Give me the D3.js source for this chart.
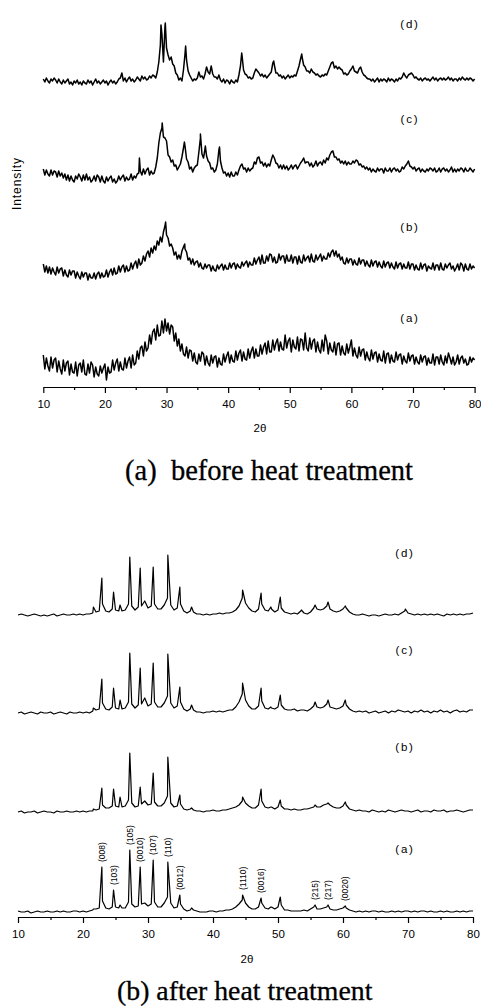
<!DOCTYPE html>
<html>
<head>
<meta charset="utf-8">
<script src="https://cdn.jsdelivr.net/npm/d3@7"></script>
<style>
  body { margin: 0; background: #fff; }
  svg { display: block; }
</style>
</head>
<body>
<script>
// ---------------- data (arbitrary intensity units) ----------------
const sampleNames = ["(a)", "(b)", "(c)", "(d)"];
const xTicks = [10, 20, 30, 40, 50, 60, 70, 80];
const xMinorTicks = [15, 25, 35, 45, 55, 65, 75];

// before heat treatment, sampled every 0.25 deg from 10 to 80
const thetaBefore = d3.range(281).map(i => 10 + i * 0.25);

const beforeA = [
  30,16,27,19, 14,28,17,25, 27,13,24,16, 11,25,14,22, 24,10,21,13,
  12,23,9,20, 22,13,25,11, 10,21,12,23, 20,8,18,11, 9,19,12,17,
  21,5,18,12, 13,25,15,22, 26,14,23,16, 15,27,17,24, 28,17,30,20,
  22,34,26,37, 39,29,43,34, 37,50,41,53, 56,45,60,49, 50,64,52,66,
  54,62,51,60, 58,44,52,39, 46,34,41,31, 29,38,27,35, 34,24,32,23,
  21,31,24,33, 31,20,29,22, 19,30,22,28, 29,18,27,21, 20,31,23,29,
  33,22,30,24, 23,34,25,32, 35,24,33,26, 25,36,27,34, 38,27,36,29,
  29,40,31,38, 42,31,44,33, 33,45,35,42, 46,34,43,36, 35,50,37,44,
  47,33,45,38, 36,48,34,46, 45,35,52,37, 34,47,36,44, 46,33,43,35,
  32,45,34,50, 44,31,42,35, 33,43,30,41, 42,30,39,32, 30,41,32,38,
  45,29,37,30, 27,38,29,35, 36,25,33,27, 24,35,26,32, 33,23,31,25,
  24,34,22,31, 32,22,30,24, 23,33,25,30, 31,21,29,24, 22,32,24,29,
  30,21,28,23, 21,30,23,28, 29,20,27,22, 22,31,20,28, 28,21,30,23,
  20,29,22,32, 27,21,28,20, 23,30,21,27, 29,22,26,20, 21,28,23,27,
  25];
const beforeB = [
  26,18,24,17, 23,16,22,18, 15,23,17,21, 22,14,20,15, 13,20,15,19,
  19,12,18,14, 11,18,13,17, 17,10,16,12, 12,17,11,16, 18,12,17,13,
  14,20,13,18, 21,15,22,16, 17,24,18,23, 25,18,24,19, 20,27,21,26,
  29,22,31,25, 27,34,29,36, 39,33,42,37, 44,40,49,45, 53,48,58,64,
  55,52,44,46, 42,35,38,31, 35,31,39,43, 41,38,30,32, 26,31,25,28,
  29,23,27,22, 21,26,22,25, 25,19,24,20, 19,25,21,24, 26,20,25,21,
  21,27,22,26, 27,21,26,23, 22,28,24,27, 29,23,28,25, 25,32,26,30,
  33,26,35,27, 27,34,29,36, 35,28,33,27, 28,36,30,34, 34,27,35,29,
  29,35,27,33, 33,26,34,28, 27,35,29,32, 34,28,36,29, 28,35,30,33,
  36,29,34,31, 31,37,33,38, 40,34,39,33, 36,30,33,27, 26,32,27,31,
  31,25,30,26, 25,32,26,30, 30,24,29,25, 23,30,24,28, 29,23,28,24,
  22,29,23,27, 28,22,27,23, 21,28,22,26, 27,21,26,22, 22,28,21,26,
  26,20,25,21, 20,27,21,25, 26,19,24,22, 21,27,20,25, 25,20,27,21,
  20,26,22,25, 27,21,24,19, 22,26,20,27, 25,19,26,21, 20,26,21,24,
  22];
const beforeC = [
  26,20,25,21, 19,25,20,24, 23,18,24,19, 22,17,21,15, 20,14,19,15,
  13,19,16,21, 18,14,20,15, 21,15,18,13, 15,19,14,20, 18,13,19,14,
  12,18,14,17, 19,13,16,12, 14,19,15,18, 20,14,18,15, 16,21,15,19,
  17,21,22,24, 20,26,21,25, 27,20,24,21, 22,28,37,52, 62,67,58,57,
  54,40,38,33, 35,29,30,25, 28,31,38,47, 49,36,33,26, 28,23,27,29,
  30,43,57,41, 37,46,39,34, 32,26,27,23, 25,31,45,34, 27,22,23,19,
  22,18,23,19, 19,23,20,25, 29,31,26,27, 23,27,24,26, 27,33,31,37,
  38,32,33,29, 32,28,31,29, 35,40,37,32, 31,27,30,26, 30,26,29,25,
  27,30,26,29, 30,26,29,32, 34,37,32,33, 33,29,32,28, 30,34,29,32,
  33,30,35,32, 37,35,40,43, 44,38,38,35, 36,32,34,31, 34,30,33,31,
  31,34,32,35, 34,30,31,28, 29,26,28,25, 27,23,26,24, 23,27,24,26,
  26,22,27,24, 24,27,23,26, 27,24,26,23, 24,28,26,29, 31,34,29,28,
  26,28,24,26, 27,23,26,24, 23,26,24,27, 26,24,27,23, 24,27,23,26,
  27,24,26,23, 25,28,23,26, 23,26,24,27, 26,23,27,24, 24,27,25,23,
  26];
const beforeD = [
  21,18,22,19, 17,21,19,22, 20,17,21,18, 16,20,17,19, 21,16,18,15,
  19,17,20,16, 18,15,19,17, 16,20,17,19, 15,18,21,17, 19,16,18,20,
  17,19,15,18, 20,17,19,16, 18,21,22,27, 19,22,18,21, 23,19,21,18,
  20,23,21,19, 24,21,23,20, 21,24,22,25, 24,22,28,38, 55,66,38,74,
  52,45,40,43, 36,34,27,25, 20,22,19,30, 46,40,29,25, 22,19,21,20,
  22,28,23,24, 21,26,33,28, 26,34,26,23, 23,21,25,20, 18,21,17,20,
  19,16,20,18, 17,20,18,25, 34,45,30,26, 25,22,23,21, 22,27,31,29,
  27,24,26,23, 25,22,24,26, 28,37,35,27, 27,24,25,22, 24,21,23,25,
  22,24,23,25, 24,29,34,41, 43,35,33,29, 29,27,31,28, 27,25,26,24,
  23,25,24,26, 25,29,33,37, 38,32,34,31, 33,31,30,26, 27,25,26,29,
  31,34,29,28, 27,31,33,28, 25,24,22,21, 21,19,21,18, 20,22,18,21,
  19,21,20,18, 22,19,21,20, 18,21,19,22, 21,23,27,24, 22,25,26,27,
  25,22,23,21, 20,22,19,21, 22,20,21,19, 21,23,20,22, 19,21,22,20,
  22,20,21,23, 20,22,19,21, 21,19,22,20, 23,21,20,22, 20,22,21,19,
  21];
// sharp reflections that fall between samples: [2theta, intensity]
const beforePeaksA = [];
const beforePeaksB = [[29.85, 68], [32.95, 46]];
const beforePeaksC = [[25.6, 37], [29.3, 72], [32.9, 53], [35.5, 61], [36.3, 49], [38.6, 48]];
const beforePeaksD = [[29.1, 75], [29.8, 77], [33.1, 54], [42.2, 47], [47.4, 39], [51.95, 46]];

// after heat treatment, background sampled every 0.5 deg from 10 to 80
const thetaAfter = d3.range(141).map(i => 10 + i * 0.5);

const afterA = [
  4,3,3,4,2,3,4,3,3,4,
  3,3,4,3,4,3,3,4,4,3,
  4,3,4,5,6,7,14,7,6,8,
  8,7,7,7,13,11,8,9,11,12,
  9,11,13,8,8,12,18,12,7,8,
  11,6,4,5,5,4,3,3,3,4,
  4,3,4,4,5,5,6,8,11,15,
  12,8,6,6,8,12,7,6,8,6,
  8,10,5,5,4,4,4,4,5,4,
  6,8,6,6,7,8,6,5,5,6,
  7,7,5,4,3,4,3,4,3,4,
  4,3,4,3,3,4,3,4,3,4,
  4,3,4,3,4,4,3,4,3,3,
  4,3,4,3,3,4,3,4,3,4,
  4];
const afterB = [
  3,4,2,3,3,4,2,3,4,3,
  3,2,4,3,3,4,3,3,4,3,
  4,3,4,4,5,6,10,7,7,9,
  9,8,8,9,15,12,8,9,11,14,
  10,11,13,9,9,12,19,12,8,9,
  11,6,5,6,5,4,4,3,4,4,
  5,4,4,5,5,6,7,8,10,14,
  12,9,7,7,10,14,8,7,8,6,
  8,9,6,6,5,6,5,5,6,6,
  7,8,8,8,10,11,10,8,7,7,
  9,10,6,5,4,5,4,4,3,5,
  4,3,4,3,5,4,3,4,5,4,
  4,3,4,5,3,4,4,3,5,4,
  4,5,3,4,4,5,4,3,4,5,
  5];
const afterC = [
  3,4,2,3,4,3,2,4,3,3,
  4,2,3,4,3,2,4,3,3,4,
  3,4,3,5,6,7,13,7,6,9,
  8,7,7,8,14,12,8,11,12,18,
  10,12,14,9,9,13,20,13,8,10,
  14,7,5,7,6,4,4,3,4,4,
  5,4,5,4,5,6,6,9,14,22,
  16,10,7,7,10,15,8,7,8,7,
  9,11,7,6,6,7,5,6,6,5,
  7,10,9,8,9,12,9,8,7,8,
  10,11,7,5,4,5,4,5,3,4,
  5,3,4,5,3,5,4,6,5,4,
  5,3,5,4,6,4,5,3,5,4,
  6,4,5,3,5,6,4,5,4,6,
  6];
const afterD = [
  3,4,3,2,3,4,3,2,3,2,
  3,4,2,3,4,3,3,4,3,4,
  3,4,4,5,6,7,14,7,6,9,
  8,7,7,8,14,12,8,11,12,17,
  10,12,14,9,9,13,20,13,8,10,
  14,7,5,7,6,4,4,3,4,3,
  4,4,5,4,5,5,6,8,12,20,
  15,10,7,6,9,14,8,7,9,6,
  8,10,6,5,4,5,4,7,5,4,
  6,10,9,8,9,12,9,7,6,7,
  9,10,6,4,3,3,4,3,2,3,
  3,2,3,4,3,3,4,3,5,7,
  5,4,3,4,3,4,3,4,3,4,
  3,2,4,3,4,3,4,3,4,4,
  5];
const afterPeaksA = [[21.6, 6], [22.9, 48], [24.7, 25], [25.7, 10], [27.2, 65], [28.8, 48], [30.8, 55],
  [33.05, 53], [34.9, 20], [36.7, 7], [44.55, 20], [47.4, 17], [48.9, 8], [50.35, 18], [55.7, 10], [57.7, 10], [60.35, 9]];
const afterPeaksB = [[21.6, 6], [22.9, 27], [24.7, 26], [25.7, 18], [27.2, 62], [28.8, 28], [30.8, 42],
  [33.05, 58], [34.9, 20], [36.7, 7], [44.55, 18], [47.4, 26], [48.9, 8], [50.35, 15], [55.7, 10], [57.7, 12], [60.35, 13]];
const afterPeaksC = [[21.6, 8], [22.9, 37], [24.7, 28], [25.7, 16], [27.2, 63], [28.8, 48], [30.8, 53],
  [33.05, 62], [34.9, 29], [36.7, 11], [44.55, 33], [47.4, 28], [48.9, 9], [50.35, 21], [55.7, 14], [57.7, 16], [60.35, 16]];
const afterPeaksD = [[21.6, 11], [22.9, 40], [24.7, 26], [25.7, 13], [27.2, 61], [28.8, 50], [30.8, 51],
  [33.05, 63], [34.9, 31], [36.7, 11], [44.55, 28], [47.4, 25], [48.9, 11], [50.35, 21], [53.6, 8], [55.7, 13],
  [57.7, 16], [60.35, 12], [69.6, 9]];

// reflection indices marked on pattern (a) after heat treatment
const hklNames = ["(008)", "(103)", "(105)", "(0010)", "(107)", "(110)", "(0012)", "(1110)", "(0016)", "(215)", "(217)", "(0020)"];
const hklTheta = [22.9, 24.7, 27.2, 28.8, 30.8, 33.05, 34.9, 44.55, 47.4, 55.7, 57.7, 60.35];

// ---------------- layout ----------------
const W = 481, H = 1006;
const sans = "'Liberation Sans', Arial, sans-serif";
const serif = "'Liberation Serif', 'Times New Roman', serif";

const svg = d3.select("body").append("svg")
  .attr("width", W)
  .attr("height", H);

function drawPanel(cfg) {
  const x = d3.scaleLinear().domain([10, 80]).range(cfg.xRange);
  const y = d3.scaleLinear().domain([0, cfg.vMax]).range([cfg.axisY, cfg.axisY - cfg.vMax]);
  const g = svg.append("g");

  const line = d3.line()
    .x(d => x(d[0]))
    .y(d => y(d[1]));

  cfg.series.forEach((s, i) => {
    const pts = s.grid.map((v, j) => [cfg.theta[j], v])
      .concat(s.peaks)
      .sort((p, q) => p[0] - q[0])
      .map(d => [d[0], d[1] + cfg.offsets[i]]);
    g.append("path")
      .attr("d", line(pts))
      .attr("fill", "none")
      .attr("stroke", "#000")
      .attr("stroke-width", cfg.lineWidth)
      .attr("stroke-linejoin", "round");

    g.append("text")
      .attr("x", cfg.labelX)
      .attr("y", cfg.labelY[i])
      .attr("text-anchor", "middle")
      .attr("font-family", sans)
      .attr("font-size", 11.5)
      .attr("letter-spacing", 1.8)
      .text(sampleNames[i]);
  });

  // minor ticks
  const minor = g.append("g")
    .attr("transform", `translate(0,${cfg.axisY})`)
    .call(d3.axisBottom(x).tickValues(xMinorTicks).tickSize(3).tickFormat("").tickSizeOuter(0));
  minor.select(".domain").remove();

  // major ticks + labels
  const major = g.append("g")
    .attr("transform", `translate(0,${cfg.axisY})`)
    .call(d3.axisBottom(x).tickValues(xTicks).tickSize(6).tickPadding(7).tickSizeOuter(0));
  major.attr("font-family", sans).attr("font-size", 11.5);
  g.selectAll(".domain, .tick line").attr("stroke", "#000").attr("stroke-width", 1.2);

  g.append("text")
    .attr("x", cfg.titleX)
    .attr("y", cfg.titleY)
    .attr("text-anchor", "middle")
    .attr("font-family", sans)
    .attr("font-size", 11.5)
    .text("2θ");

  g.append("text")
    .attr("x", cfg.captionX)
    .attr("y", cfg.captionY)
    .attr("font-family", serif)
    .attr("font-size", cfg.captionSize)
    .attr("stroke", "#000")
    .attr("stroke-width", 0.3)
    .style("white-space", "pre")
    .text(cfg.caption);

  return { x, y, g };
}

// (a) before heat treatment
const topPanel = drawPanel({
  xRange: [43.3, 474.6], axisY: 387, vMax: 380,
  theta: thetaBefore,
  series: [
    { grid: beforeA, peaks: beforePeaksA },
    { grid: beforeB, peaks: beforePeaksB },
    { grid: beforeC, peaks: beforePeaksC },
    { grid: beforeD, peaks: beforePeaksD }
  ],
  offsets: [2, 97, 192, 287],
  lineWidth: 1.5,
  labelX: 410, labelY: [322, 231, 123, 28],
  titleX: 260, titleY: 432,
  captionX: 125, captionY: 480, captionSize: 28.5, caption: "(a)  before heat treatment"
});

svg.append("text")
  .attr("transform", "translate(21,184) rotate(-90)")
  .attr("text-anchor", "middle")
  .attr("font-family", sans)
  .attr("font-size", 12)
  .attr("textLength", 52)
  .text("Intensity");

// (b) after heat treatment
const bottomOffsets = [2, 102, 201, 299];
const botPanel = drawPanel({
  xRange: [18, 473], axisY: 917, vMax: 400,
  theta: thetaAfter,
  series: [
    { grid: afterA, peaks: afterPeaksA },
    { grid: afterB, peaks: afterPeaksB },
    { grid: afterC, peaks: afterPeaksC },
    { grid: afterD, peaks: afterPeaksD }
  ],
  offsets: bottomOffsets,
  lineWidth: 1.2,
  labelX: 405, labelY: [853, 751, 654, 557],
  titleX: 247, titleY: 963,
  captionX: 117, captionY: 1000, captionSize: 27.8, caption: "(b) after heat treatment"
});

// hkl labels above the reflections of pattern (a)
hklNames.forEach((name, i) => {
  const t = hklTheta[i];
  const pk = afterPeaksA.reduce((best, p) => Math.abs(p[0] - t) < Math.abs(best[0] - t) ? p : best);
  const px = botPanel.x(t);
  const py = botPanel.y(pk[1] + bottomOffsets[0]) - 5;
  botPanel.g.append("text")
    .attr("transform", `translate(${px},${py}) rotate(-90)`)
    .attr("dy", "0.35em")
    .attr("font-family", sans)
    .attr("font-size", 8.5)
    .text(name);
});
</script>
</body>
</html>
